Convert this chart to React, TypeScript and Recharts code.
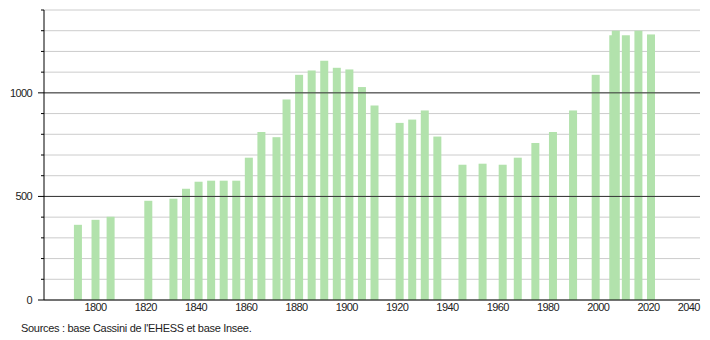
import { BarChart, Bar, XAxis, YAxis, CartesianGrid, ReferenceLine } from "recharts";

const years = [
  1793, 1800, 1806, 1821, 1831, 1836, 1841, 1846, 1851, 1856, 1861, 1866, 1872,
  1876, 1881, 1886, 1891, 1896, 1901, 1906, 1911, 1921, 1926, 1931, 1936, 1946,
  1954, 1962, 1968, 1975, 1982, 1990, 1999, 2006, 2007, 2011, 2016, 2021,
];
const population = [
  363, 387, 402, 479, 489, 537, 571, 576, 576, 576, 687, 811, 786,
  968, 1087, 1108, 1155, 1121, 1113, 1028, 939, 855, 871, 915, 789, 653,
  658, 653, 687, 758, 811, 915, 1087, 1278, 1300, 1278, 1300, 1282,
];
const xTicks = [1800, 1820, 1840, 1860, 1880, 1900, 1920, 1940, 1960, 1980, 2000, 2020, 2040];
const yTicks = [0, 100, 200, 300, 400, 500, 600, 700, 800, 900, 1000, 1100, 1200, 1300, 1400];
const yLabels = [0, 500, 1000];

const data = years.map((year, i) => ({ year, pop: population[i] }));

const font = "'Liberation Sans', Arial, sans-serif";
const BAR_W = 8;

function YTick(props: any) {
  const { x, y, payload } = props;
  const major = yLabels.includes(payload.value);
  return (
    <g>
      <line x1={x - (major ? 6 : 3)} x2={x} y1={y} y2={y} stroke="#000" strokeWidth={1} />
      {major && (
        <text x={x - 12} y={y} dy={4} textAnchor="end" fontSize={11} fill="#222" fontFamily={font} style={{ letterSpacing: -0.6 }}>
          {payload.value}
        </text>
      )}
    </g>
  );
}

function XTick(props: any) {
  const { x, y, payload, index } = props;
  const last = index === xTicks.length - 1;
  return (
    <text
      x={last ? x + 1 : x}
      y={y}
      dy={8}
      textAnchor={last ? "end" : "middle"}
      fontSize={11}
      fill="#222"
      fontFamily={font}
      style={{ letterSpacing: -0.6 }}
    >
      {payload.value}
    </text>
  );
}

// the band for numeric x is tiny (2006/2007 are one year apart), so widen each bar around its centre
function WideBar(props: any) {
  const { x, y, width, height, fill } = props;
  if (height <= 0) return null;
  return <rect x={x + width / 2 - BAR_W / 2} y={y} width={BAR_W} height={height} fill={fill} />;
}

export default function App() {
  return (
    <div style={{ position: "relative", width: 710, height: 340, margin: "-8px 0 0 -8px", fontFamily: font, background: "#fff" }}>
      <BarChart width={710} height={340} data={data} margin={{ top: 10, right: 10, left: 0, bottom: 20 }}>
        <CartesianGrid vertical={false} stroke="#cccccc" />
        <ReferenceLine y={500} stroke="#333" />
        <ReferenceLine y={1000} stroke="#333" />
        <XAxis
          dataKey="year"
          type="number"
          domain={[1779.5, 2040.5]}
          ticks={xTicks}
          allowDataOverflow
          height={20}
          tickSize={0}
          tickMargin={3}
          tickLine={false}
          axisLine={{ stroke: "#000" }}
          tick={<XTick />}
          interval={0}
        />
        <YAxis
          domain={[0, 1400]}
          ticks={yTicks}
          width={44}
          tickSize={0}
          tickMargin={0}
          tickLine={false}
          axisLine={{ stroke: "#000" }}
          tick={<YTick />}
          interval={0}
        />
        <Bar dataKey="pop" fill="#b2e2ac" shape={<WideBar />} isAnimationActive={false} />
      </BarChart>
      <div style={{ position: "absolute", left: 21, top: 322, fontSize: 11, lineHeight: "13px", color: "#222", letterSpacing: -0.3 }}>
        Sources : base Cassini de l'EHESS et base Insee.
      </div>
    </div>
  );
}
